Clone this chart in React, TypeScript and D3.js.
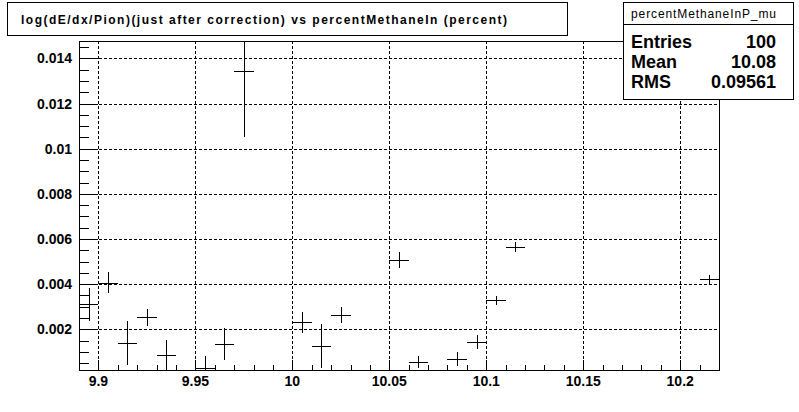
import React from "react";
import * as d3 from "d3";

// ---- data (TProfile bins, width 0.01) ----
const binWidth = 0.01;
const binCenters = [9.895, 9.905, 9.915, 9.925, 9.935, 9.955, 9.965, 9.975, 10.005, 10.015, 10.025, 10.055, 10.065, 10.085, 10.095, 10.105, 10.115, 10.215];
const binValues = [0.00311, 0.00406, 0.00141, 0.00253, 0.00086, 0.0003, 0.00135, 0.01342, 0.00231, 0.00126, 0.00262, 0.00507, 0.00054, 0.00069, 0.00143, 0.00329, 0.00563, 0.00422];
const binErrors = [0.00072, 0.00047, 0.00097, 0.00039, 0.00066, 0.00052, 0.0007, 0.00289, 0.00048, 0.00098, 0.00035, 0.00035, 0.00026, 0.0003, 0.00031, 0.0002, 0.00022, 0.00019];

const xTickValues = [9.9, 9.95, 10, 10.05, 10.1, 10.15, 10.2];
const xTickLabels = ["9.9", "9.95", "10", "10.05", "10.1", "10.15", "10.2"];
const yTickValues = [0.002, 0.004, 0.006, 0.008, 0.01, 0.012, 0.014];
const yTickLabels = ["0.002", "0.004", "0.006", "0.008", "0.01", "0.012", "0.014"];

const xDomain = [9.89, 10.22];
const yDomain = [0.0002, 0.01477];

const titleText = "log(dE/dx/Pion)(just after correction) vs percentMethaneIn (percent)";
const statsName = "percentMethaneInP_mu";
const statsLabels = ["Entries", "Mean", "RMS"];
const statsValues = ["100", "10.08", "0.09561"];

const W = 799;
const H = 412;
const frame = { left: 79, right: 719, top: 41, bottom: 370 };
const font = "'Liberation Sans', Arial, Helvetica, sans-serif";

export default function App() {
  const x = d3.scaleLinear().domain(xDomain).range([frame.left, frame.right]);
  const y = d3.scaleLinear().domain(yDomain).range([frame.bottom, frame.top]);

  const xMinor = d3.range(Math.round(xDomain[0] * 100), Math.round(xDomain[1] * 100) + 1).map((v) => v / 100);
  const yMinor = d3.range(1, 30).map((v) => v * 0.0005).filter((v) => v >= yDomain[0] && v <= yDomain[1]);

  const r = (v: number) => Math.round(v) + 0.5;

  return (
    <div style={{ position: "absolute", left: 0, top: 0, width: W, height: H, background: "#fff" }}>
      <svg width={W} height={H} style={{ display: "block" }}>
        <defs>
          <clipPath id="frameClip">
            <rect x={frame.left} y={frame.top} width={frame.right - frame.left + 1} height={frame.bottom - frame.top + 1} />
          </clipPath>
        </defs>
        <rect x={0} y={0} width={W} height={H} fill="#fff" />
        {/* grid */}
        <g stroke="#000" strokeWidth={1} strokeDasharray="3,2" shapeRendering="crispEdges" clipPath="url(#frameClip)">
          {xTickValues.map((v, i) => (
            <line key={"gx" + i} x1={r(x(v))} x2={r(x(v))} y1={frame.top} y2={frame.bottom} />
          ))}
          {yTickValues.map((v, i) => (
            <line key={"gy" + i} x1={frame.left} x2={frame.right} y1={r(y(v))} y2={r(y(v))} />
          ))}
        </g>
        {/* data */}
        <g stroke="#000" strokeWidth={1} shapeRendering="crispEdges" clipPath="url(#frameClip)">
          {binCenters.map((c, i) => (
            <g key={"p" + i}>
              <line x1={x(c - binWidth / 2)} x2={x(c + binWidth / 2)} y1={r(y(binValues[i]))} y2={r(y(binValues[i]))} />
              <line x1={r(x(c))} x2={r(x(c))} y1={y(binValues[i] + binErrors[i])} y2={y(binValues[i] - binErrors[i])} />
            </g>
          ))}
        </g>
        {/* ticks */}
        <g stroke="#000" strokeWidth={1} shapeRendering="crispEdges">
          {xMinor.map((v, i) => {
            const major = xTickValues.some((t) => Math.abs(t - v) < 1e-6);
            return <line key={"tx" + i} x1={r(x(v))} x2={r(x(v))} y1={frame.bottom} y2={frame.bottom - (major ? 10 : 5)} />;
          })}
          {yMinor.map((v, i) => {
            const major = yTickValues.some((t) => Math.abs(t - v) < 1e-9);
            return <line key={"ty" + i} x1={frame.left} x2={frame.left + (major ? 19 : 10)} y1={r(y(v))} y2={r(y(v))} />;
          })}
        </g>
        {/* frame */}
        <rect x={frame.left + 0.5} y={frame.top + 0.5} width={frame.right - frame.left} height={frame.bottom - frame.top} fill="none" stroke="#000" strokeWidth={1} shapeRendering="crispEdges" />
        {/* axis labels */}
        <g fontFamily={font} fontWeight="bold" fontSize={14} fill="#000">
          {xTickValues.map((v, i) => (
            <text key={"lx" + i} x={x(v)} y={386} textAnchor="middle">{xTickLabels[i]}</text>
          ))}
          {yTickValues.map((v, i) => (
            <text key={"ly" + i} x={72} y={y(v) + 5} textAnchor="end">{yTickLabels[i]}</text>
          ))}
        </g>
        {/* title box */}
        <rect x={7.5} y={2.5} width={560} height={33} fill="#fff" stroke="#000" strokeWidth={1} shapeRendering="crispEdges" />
        <text x={21} y={24} fontFamily={font} fontWeight="bold" fontSize={12} textLength={486} lengthAdjust="spacing">{titleText}</text>
        {/* stats box */}
        <rect x={623.5} y={2.5} width={170} height={97} fill="#fff" stroke="#000" strokeWidth={1} shapeRendering="crispEdges" />
        <line x1={623.5} x2={793.5} y1={24.5} y2={24.5} stroke="#000" strokeWidth={1} shapeRendering="crispEdges" />
        <text x={631} y={18} fontFamily={font} fontSize={12} textLength={145} lengthAdjust="spacing">{statsName}</text>
        {statsLabels.map((s, i) => (
          <g key={"s" + i} fontFamily={font} fontWeight="bold" fontSize={18}>
            <text x={631} y={48 + i * 20}>{s}</text>
            <text x={776} y={48 + i * 20} textAnchor="end">{statsValues[i]}</text>
          </g>
        ))}
      </svg>
    </div>
  );
}
